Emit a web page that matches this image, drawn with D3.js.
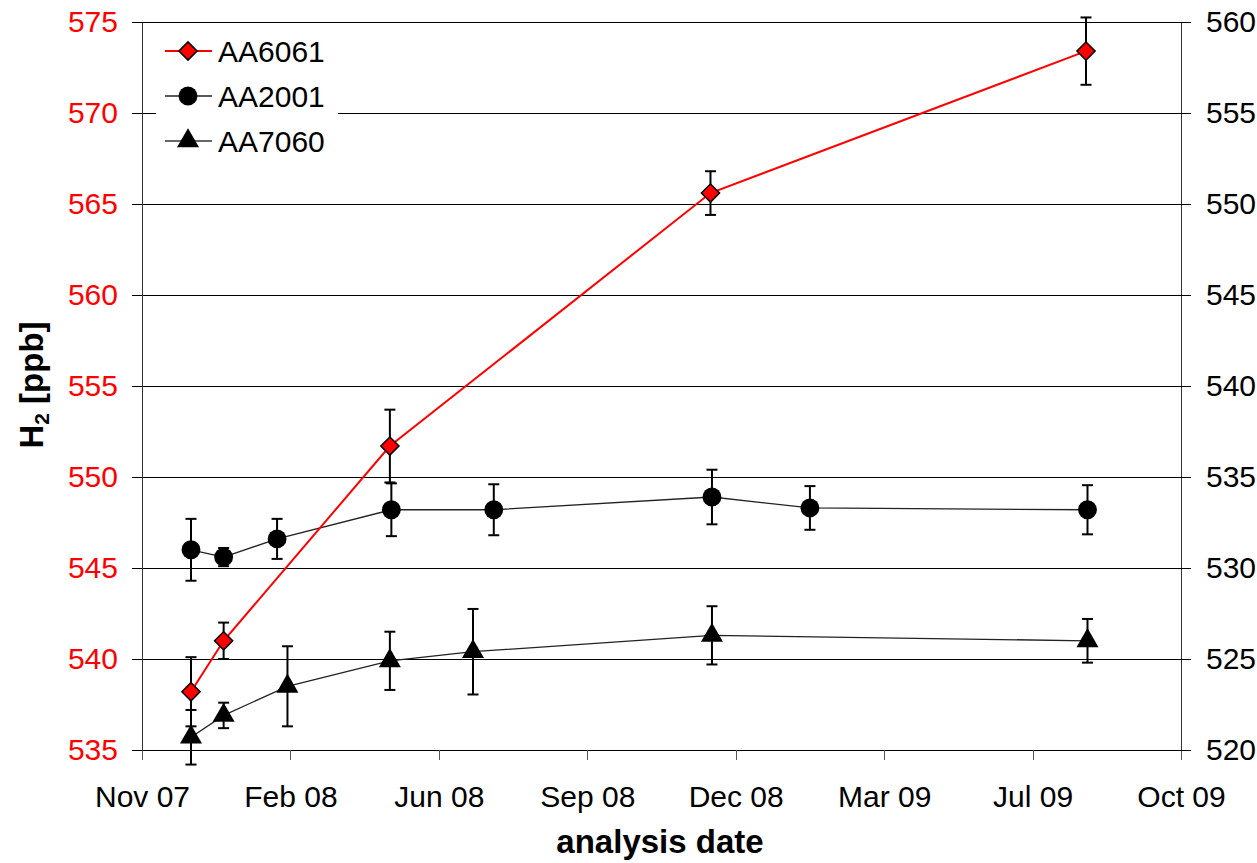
<!DOCTYPE html>
<html>
<head>
<meta charset="utf-8">
<script src="https://cdn.jsdelivr.net/npm/d3@7"></script>
<style>
  body { margin: 0; background: #fff; }
  svg { display: block; font-family: Arial, "Liberation Sans", sans-serif; }
</style>
</head>
<body>
<div id="chart"></div>
<script>
const width = 1257;
const height = 863;

// x axis ticks (Excel date axis, one tick every 100 days)
const tickDates = ["2007-11-15", "2008-02-23", "2008-06-02", "2008-09-10",
                   "2008-12-19", "2009-03-29", "2009-07-07", "2009-10-15"];
const tickLabels = ["Nov 07", "Feb 08", "Jun 08", "Sep 08", "Dec 08", "Mar 09", "Jul 09", "Oct 09"];
const leftTicks = [535, 540, 545, 550, 555, 560, 565, 570, 575];
const rightTicks = [520, 525, 530, 535, 540, 545, 550, 555, 560];

// AA6061 (left axis)
const dates6061 = ["2007-12-18", "2008-01-09", "2008-04-30", "2008-12-02", "2009-08-12"];
const h2_6061 = [538.2, 541.0, 551.7, 565.6, 573.4];
const err6061 = [1.9, 1.0, 2.0, 1.2, 1.85];

// AA2001 (right axis)
const dates2001 = ["2007-12-18", "2008-01-09", "2008-02-14", "2008-05-01",
                   "2008-07-09", "2008-12-03", "2009-02-07", "2009-08-13"];
const h2_2001 = [531.0, 530.6, 531.6, 533.2, 533.2, 533.9, 533.3, 533.2];
const err2001 = [1.7, 0.5, 1.1, 1.45, 1.4, 1.5, 1.2, 1.35];

// AA7060 (right axis)
const dates7060 = ["2007-12-18", "2008-01-09", "2008-02-21", "2008-04-30",
                   "2008-06-25", "2008-12-03", "2009-08-13"];
const h2_7060 = [520.7, 521.9, 523.5, 524.9, 525.4, 526.3, 526.0];
const err7060 = [1.5, 0.7, 2.2, 1.6, 2.35, 1.6, 1.2];

const parse = d3.timeParse("%Y-%m-%d");
const plot = { left: 142, right: 1181, top: 22, bottom: 750 };

const svg = d3.select("#chart")
  .append("svg")
  .attr("width", width)
  .attr("height", height);

// scales
const xScale = d3.scaleTime()
  .domain([parse(tickDates[0]), parse(tickDates[tickDates.length - 1])])
  .range([plot.left, plot.right]);

const yLeft = d3.scaleLinear()
  .domain([535, 575])
  .range([plot.bottom, plot.top]);

const yRight = d3.scaleLinear()
  .domain([520, 560])
  .range([plot.bottom, plot.top]);

// gridlines
svg.append("g")
  .attr("shape-rendering", "crispEdges")
  .selectAll("line")
  .data(leftTicks)
  .enter()
  .append("line")
  .attr("x1", plot.left)
  .attr("x2", plot.right)
  .attr("y1", d => yLeft(d))
  .attr("y2", d => yLeft(d))
  .attr("stroke", "#000")
  .attr("stroke-width", 1);

// x axis
const xAxis = svg.append("g")
  .attr("transform", `translate(0, ${plot.bottom})`)
  .attr("shape-rendering", "crispEdges")
  .call(d3.axisBottom(xScale)
    .tickValues(tickDates.map(parse))
    .tickFormat((d, i) => tickLabels[i])
    .tickSize(10)
    .tickSizeOuter(0)
    .tickPadding(26));
xAxis.select(".domain").attr("stroke", "#000").attr("stroke-width", 1);
xAxis.selectAll(".tick line").attr("stroke", "#555").attr("stroke-width", 1);
xAxis.selectAll("text")
  .attr("font-size", 30)
  .attr("font-family", "Arial, 'Liberation Sans', sans-serif")
  .attr("fill", "#000");

// left axis
const leftAxis = svg.append("g")
  .attr("transform", `translate(${plot.left}, 0)`)
  .attr("shape-rendering", "crispEdges")
  .call(d3.axisLeft(yLeft)
    .tickValues(leftTicks)
    .tickSize(10)
    .tickSizeOuter(0)
    .tickPadding(14));
leftAxis.select(".domain").attr("stroke", "#333").attr("stroke-width", 1);
leftAxis.selectAll(".tick line").attr("stroke", "#000").attr("stroke-width", 1);
leftAxis.selectAll("text")
  .attr("font-size", 30)
  .attr("font-family", "Arial, 'Liberation Sans', sans-serif")
  .attr("fill", "#ff0000");

// right axis
const rightAxis = svg.append("g")
  .attr("transform", `translate(${plot.right}, 0)`)
  .attr("shape-rendering", "crispEdges")
  .call(d3.axisRight(yRight)
    .tickValues(rightTicks)
    .tickSize(10)
    .tickSizeOuter(0)
    .tickPadding(15));
rightAxis.select(".domain").attr("stroke", "#333").attr("stroke-width", 1);
rightAxis.selectAll(".tick line")
  .attr("x1", -9)
  .attr("stroke", "#000")
  .attr("stroke-width", 1);
rightAxis.selectAll("text")
  .attr("font-size", 30)
  .attr("font-family", "Arial, 'Liberation Sans', sans-serif")
  .attr("fill", "#000");

// series
const series = [
  { name: "AA7060", dates: dates7060, vals: h2_7060, errs: err7060, y: yRight,
    line: "#222", lineWidth: 1.3, symbol: d3.symbolTriangle, size: 210, fill: "#000", stroke: "none" },
  { name: "AA2001", dates: dates2001, vals: h2_2001, errs: err2001, y: yRight,
    line: "#222", lineWidth: 1.3, symbol: d3.symbolCircle, size: 280, fill: "#000", stroke: "none" },
  { name: "AA6061", dates: dates6061, vals: h2_6061, errs: err6061, y: yLeft,
    line: "#ff0000", lineWidth: 2, symbol: d3.symbolSquare, size: 165, fill: "#ff0000", stroke: "#000", rotate: 45 }
];

series.forEach(s => {
  const pts = s.dates.map((d, i) => ({ x: xScale(parse(d)), v: s.vals[i], e: s.errs[i] }));
  const g = svg.append("g");

  g.append("path")
    .datum(pts)
    .attr("fill", "none")
    .attr("stroke", s.line)
    .attr("stroke-width", s.lineWidth)
    .attr("d", d3.line().x(p => p.x).y(p => s.y(p.v)));

  // error bars
  const eb = g.selectAll(".err")
    .data(pts)
    .enter()
    .append("g")
    .attr("stroke", "#000")
    .attr("stroke-width", 2);
  eb.append("line")
    .attr("x1", p => p.x).attr("x2", p => p.x)
    .attr("y1", p => s.y(p.v + p.e)).attr("y2", p => s.y(p.v - p.e));
  eb.append("line")
    .attr("x1", p => p.x - 5.5).attr("x2", p => p.x + 5.5)
    .attr("y1", p => s.y(p.v + p.e)).attr("y2", p => s.y(p.v + p.e));
  eb.append("line")
    .attr("x1", p => p.x - 5.5).attr("x2", p => p.x + 5.5)
    .attr("y1", p => s.y(p.v - p.e)).attr("y2", p => s.y(p.v - p.e));

  // markers
  g.selectAll(".mark")
    .data(pts)
    .enter()
    .append("path")
    .attr("d", d3.symbol().type(s.symbol).size(s.size))
    .attr("transform", p => `translate(${p.x}, ${s.y(p.v)}) rotate(${s.rotate || 0})`)
    .attr("fill", s.fill)
    .attr("stroke", s.stroke)
    .attr("stroke-width", 1.5);
});

// legend
const legend = svg.append("g");
legend.append("rect")
  .attr("x", 156)
  .attr("y", 30)
  .attr("width", 182)
  .attr("height", 130)
  .attr("fill", "#fff");

const legendOrder = [series[2], series[1], series[0]];
legendOrder.forEach((s, i) => {
  const row = legend.append("g")
    .attr("transform", `translate(0, ${51 + i * 45})`);

  row.append("line")
    .attr("x1", 165)
    .attr("x2", 212)
    .attr("stroke", s.name === "AA7060" ? "#666" : s.line)
    .attr("stroke-width", s.name === "AA7060" ? 2 : s.lineWidth);

  row.append("path")
    .attr("d", d3.symbol().type(s.symbol).size(s.size))
    .attr("transform", `translate(188, 0) rotate(${s.rotate || 0})`)
    .attr("fill", s.fill)
    .attr("stroke", s.stroke)
    .attr("stroke-width", 1.5);

  row.append("text")
    .attr("x", 218)
    .attr("dy", "0.36em")
    .attr("font-size", 30)
    .text(s.name);
});

// x label
svg.append("text")
  .attr("x", 660)
  .attr("y", 853)
  .attr("text-anchor", "middle")
  .attr("font-size", 33)
  .attr("font-weight", "bold")
  .text("analysis date");

// y label
const yLabel = svg.append("text")
  .attr("transform", "rotate(-90)")
  .attr("x", -385)
  .attr("y", 43)
  .attr("text-anchor", "middle")
  .attr("font-size", 33)
  .attr("font-weight", "bold");
yLabel.append("tspan").text("H");
yLabel.append("tspan").attr("font-size", 21).attr("dy", 6).text("2");
yLabel.append("tspan").attr("dy", -6).text(" [ppb]");
</script>
</body>
</html>
